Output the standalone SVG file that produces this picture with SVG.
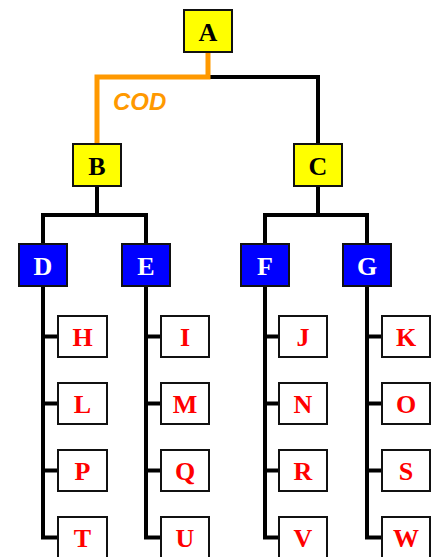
<svg xmlns="http://www.w3.org/2000/svg" width="431" height="557" viewBox="0 0 431 557">
<style>
.n rect{stroke:#111;stroke-width:2}
.top rect{fill:#ffff00}
.mid rect{fill:#0000ff}
.leaf rect{fill:#ffffff}
.n text{font-family:"Liberation Serif","Times New Roman",serif;font-weight:bold;font-size:26px;text-anchor:middle}
.top text{fill:#000}
.mid text{fill:#fff}
.leaf text{fill:#ff0000}
.c path{fill:none;stroke:#000;stroke-width:4;stroke-linejoin:miter}
.c path.o{stroke:#ff9900;stroke-width:5}
.lbl{font-family:"Liberation Sans",Arial,sans-serif;font-weight:bold;font-style:italic;font-size:24px;fill:#ff9900}
</style>
<g id="connectors" class="c">
<path d="M208 77 H318 V144"/>
<path class="o" d="M208 52 V77 H97 V144"/>
<path d="M97 186 V215"/>
<path d="M43 244 V215 H146 V244"/>
<path d="M318 186 V215"/>
<path d="M265 244 V215 H367 V244"/>
<path d="M43 286 V537.5 H58 M43 336.5 H58 M43 403.5 H58 M43 470.5 H58"/>
<path d="M146 286 V537.5 H161 M146 336.5 H161 M146 403.5 H161 M146 470.5 H161"/>
<path d="M265 286 V537.5 H279 M265 336.5 H279 M265 403.5 H279 M265 470.5 H279"/>
<path d="M367 286 V537.5 H382 M367 336.5 H382 M367 403.5 H382 M367 470.5 H382"/>
</g>
<text class="lbl" x="113" y="110">COD</text>
<g id="A" class="n top"><rect x="184" y="10" width="48" height="42"/><text x="208" y="41">A</text></g>
<g id="B" class="n top"><rect x="73" y="144" width="48" height="42"/><text x="97" y="175">B</text></g>
<g id="C" class="n top"><rect x="294" y="144" width="48" height="42"/><text x="318" y="175">C</text></g>
<g id="D" class="n mid"><rect x="19" y="244" width="48" height="42"/><text x="43" y="275">D</text></g>
<g id="E" class="n mid"><rect x="122" y="244" width="48" height="42"/><text x="146" y="275">E</text></g>
<g id="F" class="n mid"><rect x="241" y="244" width="48" height="42"/><text x="265" y="275">F</text></g>
<g id="G" class="n mid"><rect x="343" y="244" width="48" height="42"/><text x="367" y="275">G</text></g>
<g id="H" class="n leaf"><rect x="58" y="316" width="49" height="41"/><text x="82.5" y="346">H</text></g>
<g id="I" class="n leaf"><rect x="161" y="316" width="48" height="41"/><text x="185" y="346">I</text></g>
<g id="J" class="n leaf"><rect x="279" y="316" width="48" height="41"/><text x="303" y="346">J</text></g>
<g id="K" class="n leaf"><rect x="382" y="316" width="48" height="41"/><text x="406" y="346">K</text></g>
<g id="L" class="n leaf"><rect x="58" y="383" width="49" height="41"/><text x="82.5" y="413">L</text></g>
<g id="M" class="n leaf"><rect x="161" y="383" width="48" height="41"/><text x="185" y="413">M</text></g>
<g id="N" class="n leaf"><rect x="279" y="383" width="48" height="41"/><text x="303" y="413">N</text></g>
<g id="O" class="n leaf"><rect x="382" y="383" width="48" height="41"/><text x="406" y="413">O</text></g>
<g id="P" class="n leaf"><rect x="58" y="450" width="49" height="41"/><text x="82.5" y="480">P</text></g>
<g id="Q" class="n leaf"><rect x="161" y="450" width="48" height="41"/><text x="185" y="480">Q</text></g>
<g id="R" class="n leaf"><rect x="279" y="450" width="48" height="41"/><text x="303" y="480">R</text></g>
<g id="S" class="n leaf"><rect x="382" y="450" width="48" height="41"/><text x="406" y="480">S</text></g>
<g id="T" class="n leaf"><rect x="58" y="517" width="49" height="41"/><text x="82.5" y="547">T</text></g>
<g id="U" class="n leaf"><rect x="161" y="517" width="48" height="41"/><text x="185" y="547">U</text></g>
<g id="V" class="n leaf"><rect x="279" y="517" width="48" height="41"/><text x="303" y="547">V</text></g>
<g id="W" class="n leaf"><rect x="382" y="517" width="48" height="41"/><text x="406" y="547">W</text></g>
</svg>
